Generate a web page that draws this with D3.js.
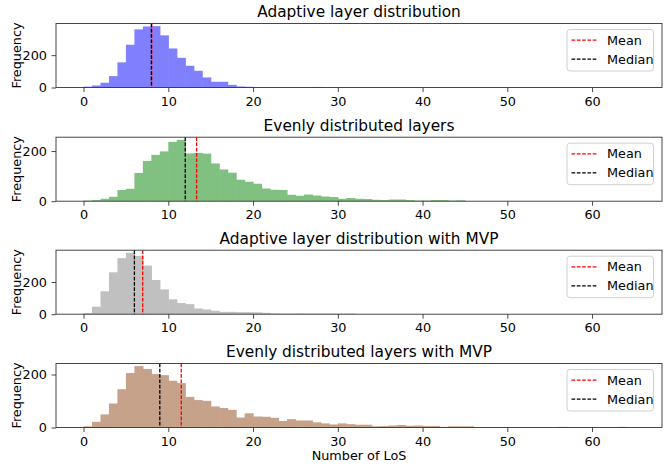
<!DOCTYPE html>
<html><head><meta charset="utf-8">
<script src="https://cdn.jsdelivr.net/npm/d3@7"></script>
<style>body{margin:0;background:#fff}svg{display:block;font-family:"DejaVu Sans",sans-serif}</style>
</head><body><svg id="c" width="664" height="466"></svg>
<script>
const titles = ["Adaptive layer distribution","Evenly distributed layers","Adaptive layer distribution with MVP","Evenly distributed layers with MVP"];
const colors = ["#8080ff","#80c080","#c0c0c0","#c5a289"];
// histogram counts, bins of width 1 starting at 0
const counts1 = [3,10,27,68,153,262,357,375,377,320,239,181,132,101,60,33,33,14,4,2,0,0,0,0,0,0,0,1];
const counts2 = [1,3,8,16,43,48,111,159,183,197,235,243,189,191,188,149,125,112,84,76,68,49,44,43,24,20,25,21,17,15,8,11,8,7,4,3,5,5,3,1,1,3,3,1,2];
const counts3 = [4,44,140,258,346,379,360,300,210,152,90,67,60,33,27,19,12,12,10,10,9,6,2,1,1,2,1,1,1,1,1,1];
const counts4 = [3,20,48,89,143,204,230,219,200,196,175,166,114,102,99,78,72,65,36,52,40,39,35,23,30,25,25,18,14,10,14,11,9,9,3,4,6,8,5,6,4,4,1,3,3,3,0,0,0,0,0,0,0,0,0,0,1,0,0,0,0,0,0,1];
const means = [8.05, 13.34, 6.98, 11.53];
const medians = [8, 12, 6, 9];
const xTicks = [0,10,20,30,40,50,60];
const yTicks = [0,200];
const legendLabels = ["Mean","Median"];
const allCounts = [counts1,counts2,counts3,counts4];

const svg = d3.select("#c");
const left = 56, right = 662, h = 64;
const tops = [23.5, 137.2, 250.2, 363.5];
const x = d3.scaleLinear().domain([-3.25, 68.25]).range([left, right]);
const fs = 12.8, tfs = 15.35;

allCounts.forEach((cnt, k) => {
  const top = tops[k], bottom = top + h;
  const ymax = d3.max(cnt) * 1.05;
  const y = d3.scaleLinear().domain([0, ymax]).range([bottom, top]);
  const g = svg.append("g");
  // bars
  g.selectAll("rect.bar").data(cnt).join("rect")
    .attr("x", (d,i) => x(i)).attr("width", (d,i) => x(i+1) - x(i) + 0.6)
    .attr("y", d => y(d) - (d > 0 ? 0.4 : 0)).attr("height", d => y(0) - y(d) + (d > 0 ? 0.4 : 0))
    .attr("fill", colors[k]);
  // mean / median lines
  [[means[k], "#ff0000"], [medians[k], "#000000"]].forEach(([v, c]) => {
    g.append("line").attr("x1", x(v)).attr("x2", x(v)).attr("y1", top).attr("y2", bottom)
      .attr("stroke", c).attr("stroke-width", 1.3).attr("stroke-dasharray", "3.7,1.6");
  });
  // frame
  g.append("rect").attr("x", left).attr("y", top).attr("width", right-left).attr("height", h)
    .attr("fill", "none").attr("stroke", "#333").attr("stroke-width", 0.9);
  // x axis
  const xa = g.append("g").attr("transform", `translate(0,${bottom})`)
    .call(d3.axisBottom(x).tickValues(xTicks).tickSize(4.5).tickPadding(4.5).tickFormat(d3.format("d")));
  xa.select(".domain").remove();
  xa.selectAll("line").attr("stroke", "#333").attr("stroke-width", 0.9);
  xa.selectAll("text").attr("font-size", fs).attr("fill", "#000").attr("font-family", "DejaVu Sans");
  // y axis
  const ya = g.append("g").attr("transform", `translate(${left},0)`)
    .call(d3.axisLeft(y).tickValues(yTicks).tickSize(4.5).tickPadding(4.5).tickFormat(d3.format("d")));
  ya.select(".domain").remove();
  ya.selectAll("line").attr("stroke", "#333").attr("stroke-width", 0.9);
  ya.selectAll("text").attr("font-size", fs).attr("fill", "#000").attr("font-family", "DejaVu Sans");
  // y label
  g.append("text").attr("transform", `translate(20.5,${(top+bottom)/2}) rotate(-90)`)
    .attr("text-anchor", "middle").attr("font-size", fs).text("Frequency");
  // title
  g.append("text").attr("x", (left+right)/2).attr("y", top - 6.5)
    .attr("text-anchor", "middle").attr("font-size", tfs).text(titles[k]);
  // legend
  const lg = g.append("g").attr("transform", `translate(567,${top+6})`);
  lg.append("rect").attr("width", 86.5).attr("height", 41.5).attr("rx", 3)
    .attr("fill", "#fff").attr("fill-opacity", 0.8).attr("stroke", "#ccc").attr("stroke-width", 0.9);
  legendLabels.forEach((lab, i) => {
    const cy = 10.7 + i * 19;
    lg.append("line").attr("x1", 4.5).attr("x2", 30).attr("y1", cy).attr("y2", cy)
      .attr("stroke", i === 0 ? "#ff0000" : "#000").attr("stroke-width", 1.3).attr("stroke-dasharray", "3.7,1.6");
    lg.append("text").attr("x", 40).attr("y", cy + 4.6).attr("font-size", fs).text(lab);
  });
});
svg.append("text").attr("x", (left+right)/2).attr("y", 460).attr("text-anchor", "middle")
  .attr("font-size", fs).text("Number of LoS");
</script></body></html>
